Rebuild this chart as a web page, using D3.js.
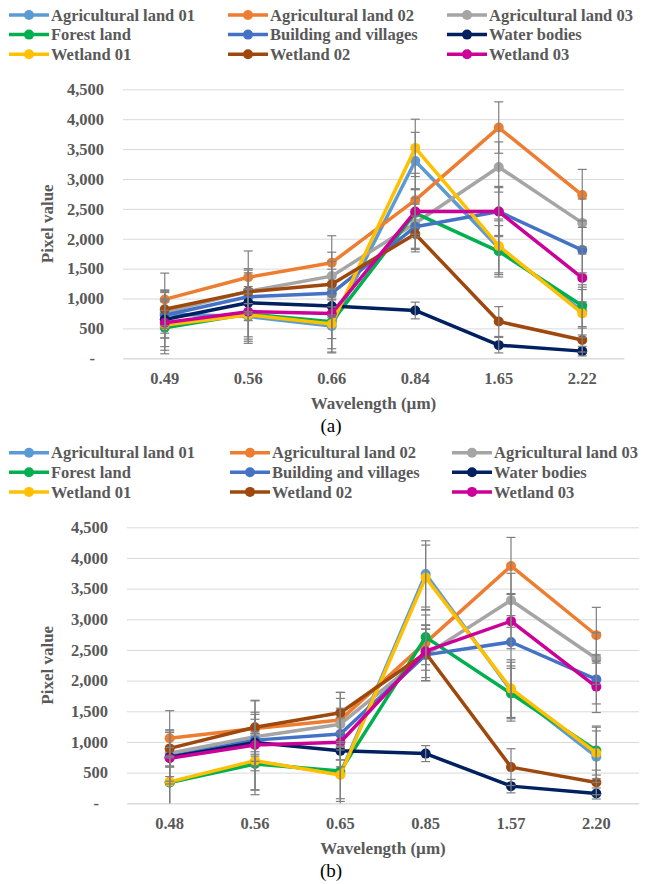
<!DOCTYPE html>
<html>
<head>
<meta charset="utf-8">
<script src="https://cdn.jsdelivr.net/npm/d3@7"></script>
<style>
  body { margin: 0; background: #fff; }
</style>
</head>
<body>
<div id="chart"></div>
<script>
"use strict";

// legend order, colours
var seriesNames = ["Agricultural land 01", "Agricultural land 02", "Agricultural land 03",
    "Forest land", "Building and villages", "Water bodies",
    "Wetland 01", "Wetland 02", "Wetland 03"];
var seriesColors = ["#5B9BD5", "#ED7D31", "#A5A5A5", "#00B050", "#4472C4", "#002060",
    "#FFC000", "#9E480E", "#CC0099"];
var yTicks = [0, 500, 1000, 1500, 2000, 2500, 3000, 3500, 4000, 4500];

// panel (a)
var wavelengthsA = ["0.49", "0.56", "0.66", "0.84", "1.65", "2.22"];
var agri01A   = [740, 700, 540, 3300, 1850, 790];
var agri02A   = [985, 1355, 1600, 2645, 3860, 2730];
var agri03A   = [770, 1120, 1375, 2260, 3200, 2265];
var forestA   = [510, 740, 610, 2430, 1790, 880];
var buildA    = [720, 1030, 1090, 2200, 2455, 1810];
var waterA    = [650, 930, 875, 800, 220, 120];
var wet01A    = [555, 725, 575, 3520, 1880, 750];
var wet02A    = [820, 1115, 1240, 2080, 615, 305];
var wet03A    = [595, 780, 750, 2455, 2455, 1345];
var agri01ErrA = [400, 450, 450, 480, 450, 400];
var agri02ErrA = [440, 440, 450, 450, 430, 430];
var agri03ErrA = [350, 380, 400, 420, 420, 400];
var forestErrA = [435, 420, 450, 400, 430, 350];
var buildErrA  = [380, 400, 400, 380, 420, 380];
var waterErrA  = [150, 150, 150, 140, 130, 80];
var wet01ErrA  = [420, 440, 470, 480, 450, 400];
var wet02ErrA  = [320, 360, 380, 300, 250, 200];
var wet03ErrA  = [400, 420, 420, 380, 400, 400];

// panel (b)
var wavelengthsB = ["0.48", "0.56", "0.65", "0.85", "1.57", "2.20"];
var agri01B   = [340, 680, 480, 3740, 1840, 760];
var agri02B   = [1060, 1220, 1360, 2620, 3870, 2740];
var agri03B   = [815, 1085, 1290, 2420, 3310, 2360];
var forestB   = [340, 640, 525, 2710, 1790, 860];
var buildB    = [760, 1030, 1130, 2420, 2630, 2020];
var waterB    = [750, 990, 855, 810, 280, 160];
var wet01B    = [350, 695, 460, 3680, 1870, 820];
var wet02B    = [895, 1240, 1477, 2450, 590, 340];
var wet03B    = [735, 950, 995, 2480, 2970, 1900];
var agri01ErrB = [420, 460, 450, 540, 460, 420];
var agri02ErrB = [450, 450, 450, 450, 465, 455];
var agri03ErrB = [380, 400, 420, 420, 440, 420];
var forestErrB = [400, 500, 450, 450, 450, 400];
var buildErrB  = [400, 420, 420, 420, 430, 400];
var waterErrB  = [160, 150, 150, 130, 110, 90];
var wet01ErrB  = [420, 480, 470, 530, 470, 420];
var wet02ErrB  = [300, 440, 330, 450, 300, 200];
var wet03ErrB  = [420, 420, 400, 430, 450, 420];

var W = 662, H = 884;
var textColor = "#595959";
var serif = "'Liberation Serif', 'Times New Roman', serif";

var svg = d3.select("#chart").append("svg")
    .attr("width", W)
    .attr("height", H);

function buildSeries(values, errors) {
    return seriesNames.map(function (name, i) {
        return { name: name, color: seriesColors[i], values: values[i], errors: errors[i] };
    });
}

var panelA = {
    categories: wavelengthsA,
    series: buildSeries(
        [agri01A, agri02A, agri03A, forestA, buildA, waterA, wet01A, wet02A, wet03A],
        [agri01ErrA, agri02ErrA, agri03ErrA, forestErrA, buildErrA, waterErrA, wet01ErrA, wet02ErrA, wet03ErrA]),
    left: 123, right: 624, top: 89.3, bottom: 358.3,
    legendY: 15, legendCols: [9, 228, 447],
    caption: "(a)"
};
var panelB = {
    categories: wavelengthsB,
    series: buildSeries(
        [agri01B, agri02B, agri03B, forestB, buildB, waterB, wet01B, wet02B, wet03B],
        [agri01ErrB, agri02ErrB, agri03ErrB, forestErrB, buildErrB, waterErrB, wet01ErrB, wet02ErrB, wet03ErrB]),
    left: 127, right: 639, top: 527.3, bottom: 803.3,
    legendY: 452.7, legendCols: [9, 230, 452],
    caption: "(b)"
};

function labelStyle(sel, size) {
    sel.style("font-family", serif)
        .style("font-size", size + "px")
        .style("font-weight", "bold")
        .attr("fill", textColor);
}

function drawPanel(p) {
    var g = svg.append("g");

    var x = d3.scaleBand()
        .domain(p.categories)
        .range([p.left, p.right])
        .padding(0);
    var y = d3.scaleLinear()
        .domain([0, 4500])
        .range([p.bottom, p.top]);

    // legend
    var rowH = 19.6;
    var leg = g.append("g").attr("class", "legend");
    p.series.forEach(function (s, i) {
        var col = i % 3, row = Math.floor(i / 3);
        var lx = p.legendCols[col], ly = p.legendY + row * rowH;
        var item = leg.append("g").attr("transform", "translate(" + lx + "," + ly + ")");
        item.append("line")
            .attr("x1", 0).attr("x2", 40)
            .attr("y1", 0).attr("y2", 0)
            .attr("stroke", s.color)
            .attr("stroke-width", 3.5);
        item.append("circle")
            .attr("cx", 20).attr("cy", 0).attr("r", 5)
            .attr("fill", s.color);
        item.append("text")
            .attr("x", 42)
            .attr("dy", "0.35em")
            .text(s.name)
            .call(labelStyle, 16.5);
    });

    // gridlines + y labels
    var yAxis = d3.axisLeft(y)
        .tickValues(yTicks)
        .tickSize(-(p.right - p.left))
        .tickPadding(19)
        .tickFormat(function (d) { return d === 0 ? "-" : d3.format(",")(d); });
    var ya = g.append("g")
        .attr("transform", "translate(" + p.left + ",0)")
        .call(yAxis);
    ya.select(".domain").remove();
    ya.selectAll(".tick line").attr("stroke", "#d9d9d9").attr("stroke-width", 1);
    ya.selectAll(".tick text")
        .call(labelStyle, 16.5)
        .attr("dx", function (d) { return d === 0 ? -9 : 0; });

    // x labels
    var xAxis = d3.axisBottom(x).tickSize(0).tickPadding(14);
    var xa = g.append("g")
        .attr("transform", "translate(0," + p.bottom + ")")
        .call(xAxis);
    xa.select(".domain").attr("stroke", "#d9d9d9");
    xa.selectAll(".tick text").call(labelStyle, 16.5);

    // axis titles
    g.append("text")
        .attr("transform", "translate(47," + ((p.top + p.bottom) / 2) + ") rotate(-90)")
        .attr("text-anchor", "middle")
        .attr("dy", "0.35em")
        .text("Pixel value")
        .call(labelStyle, 17);
    g.append("text")
        .attr("x", (p.left + p.right) / 2)
        .attr("y", p.bottom + 51)
        .attr("text-anchor", "middle")
        .text("Wavelength (\u00b5m)")
        .call(labelStyle, 17);
    g.append("text")
        .attr("x", 331)
        .attr("y", p.bottom + 74)
        .attr("text-anchor", "middle")
        .style("font-family", serif)
        .style("font-size", "19px")
        .attr("fill", "#000")
        .text(p.caption);

    var cx = function (i) { return x(p.categories[i]) + x.bandwidth() / 2; };

    var line = d3.line()
        .x(function (d, i) { return cx(i); })
        .y(function (d) { return y(d); });

    // series lines + markers, in legend order
    p.series.forEach(function (s) {
        var sg = g.append("g");
        sg.append("path")
            .datum(s.values)
            .attr("fill", "none")
            .attr("stroke", s.color)
            .attr("stroke-width", 3.5)
            .attr("stroke-linejoin", "round")
            .attr("d", line);
        sg.selectAll("circle")
            .data(s.values)
            .enter().append("circle")
            .attr("cx", function (d, i) { return cx(i); })
            .attr("cy", function (d) { return y(d); })
            .attr("r", 5)
            .attr("fill", s.color);
    });

    // error bars on top
    var eb = g.append("g")
        .attr("stroke", "#7f7f7f")
        .attr("stroke-width", 1.2);
    p.series.forEach(function (s) {
        s.values.forEach(function (v, i) {
            var hi = y(Math.min(4500, v + s.errors[i]));
            var lo = y(Math.max(0, v - s.errors[i]));
            var xc = cx(i);
            eb.append("line").attr("x1", xc).attr("x2", xc).attr("y1", hi).attr("y2", lo);
            eb.append("line").attr("x1", xc - 4.5).attr("x2", xc + 4.5).attr("y1", hi).attr("y2", hi);
            if (v - s.errors[i] > 0) {
                eb.append("line").attr("x1", xc - 4.5).attr("x2", xc + 4.5).attr("y1", lo).attr("y2", lo);
            }
        });
    });
}

drawPanel(panelA);
drawPanel(panelB);
</script>
</body>
</html>
